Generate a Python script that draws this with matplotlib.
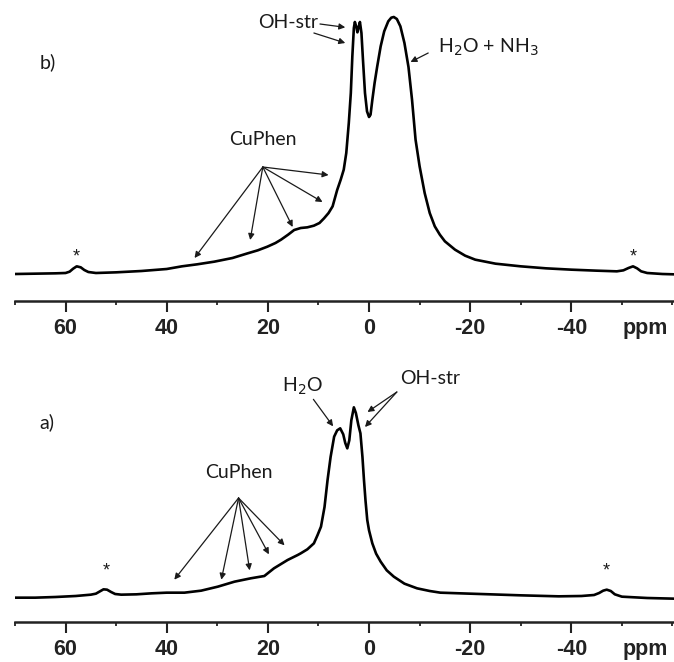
import matplotlib
matplotlib.use("Agg")
import matplotlib.pyplot as plt
from matplotlib.ticker import MultipleLocator

# ---- data (ppm vs intensity) ----
top_ppm = [70, 66, 62, 60, 59.2, 58.5, 57.8, 57, 56.3, 55.5, 54, 50, 45, 40, 37, 34, 30.6, 27, 24,
           22, 20.1, 18.5, 17.4, 16, 14.8, 13.5, 12.2, 10.9, 9.8, 8.9, 8, 7.2, 6.3, 5.6, 5.0,
           4.5, 4.0, 3.6, 3.3, 3.0, 2.8, 2.5, 2.3, 2.05, 1.8, 1.5, 1.2, 0.8, 0.4, 0.0, -0.3,
           -0.65, -1.1, -1.6, -2.3, -3.0, -3.8, -4.4, -4.9, -5.5, -6.2, -7.0, -7.8, -8.5, -9.2,
           -10, -11, -12, -13, -14, -15, -17, -19, -21, -25, -30, -35, -40, -45, -49, -50.3,
           -51.3, -52.2, -53, -53.8, -55, -58, -60.3]
top_int = [-3, -2, -1, 0, 4, 13, 20, 17, 9, 3, 0, 2, 6, 12, 20, 26, 34, 45, 59,
           68, 79, 90, 100, 115, 129, 135, 137, 142, 150, 164, 180, 200, 249, 280, 310,
           360, 450, 540, 650, 735, 753, 738, 722, 738, 753, 720, 640, 540, 485, 468, 475,
           519, 570, 618, 680, 725, 755, 766, 768, 762, 740, 690, 618, 520, 400,
           320, 240, 180, 140, 115, 95, 70, 52, 40, 28, 20, 14, 10, 7, 5, 8,
           15, 20, 14, 5, 0, -3, -4]

bot_ppm = [70, 66, 62, 58, 55, 54, 53.2, 52.5, 51.8, 51, 50.2, 49, 46, 43, 40, 36.5, 33.2, 29.9,
           26.6, 23.4, 20.7, 18.8, 16.1, 14.1, 13.5, 12.2, 10.9, 10.2, 9.5, 8.8, 8.2, 7.6, 6.9,
           6.3, 5.7, 5.1, 4.7, 4.3, 3.9, 3.5, 3.0, 2.6, 2.1, 1.7, 1.3, 1.0, 0.7, 0.35, 0.0,
           -0.65, -1.4, -2.3, -3.5, -4.9, -7, -9.5, -12, -14.1, -18, -22, -30, -37.5, -42,
           -44.5, -45.5, -46.3, -47, -47.8, -48.6, -50, -55, -60.3]
bot_int = [-2, -2, 0, 3, 7, 10, 17, 23, 22, 15, 9, 7, 8, 11, 13, 13, 19, 31,
           46, 56, 63, 86, 111, 126, 131, 143, 161, 185, 211, 270, 351, 420, 481,
           500, 506, 488, 462, 446, 470, 530, 569, 552, 515, 491, 420, 351, 290, 231, 200,
           161, 130, 106, 80, 61, 40, 26, 18, 13, 11, 9, 5, 2, 3,
           6, 12, 19, 22, 18, 8, 1, -3, -5]

tick_vals = [60, 40, 20, 0, -20, -40]
tick_labels = ["60", "40", "20", "0", "-20", "-40"]
axis_label = "ppm"

W, H = 674, 662
fig = plt.figure(figsize=(W / 100, H / 100), dpi=100)

TXT = ["Lato", "DejaVu Sans"]
TICKF = ["Liberation Sans", "DejaVu Sans"]
CLR = "#1a1a1a"
TICK_LEN = 8.0
TICK_PAD = 4.5
TICK_FS = 15.5


def make_axes(top_px, spine_px, ylim):
    ax = fig.add_axes([15 / W, (H - spine_px) / H, 1 - 15 / W, (spine_px - top_px) / H])
    ax.set_facecolor("none")
    ax.set_xlim(70, -60.3)
    ax.set_ylim(*ylim)
    for s in ("top", "left", "right"):
        ax.spines[s].set_visible(False)
    ax.spines["bottom"].set_linewidth(1.8)
    ax.spines["bottom"].set_color("#222222")
    ax.set_yticks([])
    ax.set_xticks(tick_vals)
    ax.set_xticklabels(tick_labels, fontfamily=TICKF, fontweight="bold", fontsize=TICK_FS)
    ax.xaxis.set_minor_locator(MultipleLocator(10))
    ax.tick_params(axis="x", which="major", length=TICK_LEN, width=1.5, direction="out",
                   pad=TICK_PAD, colors="#222222")
    ax.tick_params(axis="x", which="minor", length=3.2, width=1.3, direction="out",
                   colors="#222222")
    ax.annotate(axis_label, xy=(-54.6, 0), xycoords=("data", "axes fraction"),
                xytext=(0, -(TICK_LEN + TICK_PAD)), textcoords="offset points",
                ha="center", va="top", fontfamily=TICKF, fontweight="bold", fontsize=TICK_FS,
                color="#222222", annotation_clip=False)
    return ax


def arrow(ax, xy_from, xy_to):
    ax.annotate("", xy=xy_to, xytext=xy_from,
                arrowprops=dict(arrowstyle="-|>", lw=0.9, color=CLR, mutation_scale=9,
                                shrinkA=0, shrinkB=0))


# ---- top panel b) ----
axb = make_axes(0, 301, (-84, 819))
axb.plot(top_ppm, top_int, color="black", lw=1.9)
axb.text(63.5, 633, "b)", fontfamily=TXT, fontsize=14, color=CLR, ha="center", va="center")
axb.text(21.0, 400, "CuPhen", fontfamily=TXT, fontsize=14, color=CLR, ha="center", va="center")
for tgt in [(34.5, 45), (23.5, 99), (15.1, 138), (9.2, 213), (8.0, 294)]:
    arrow(axb, (21.0, 318), tgt)
axb.text(15.9, 752, "OH-str", fontfamily=TXT, fontsize=14, color=CLR, ha="center", va="center")
arrow(axb, (9.7, 747), (4.7, 737))
arrow(axb, (10.9, 720), (4.7, 690))
axb.text(-23.6, 678, r"H$_2$O + NH$_3$", fontfamily=TXT, fontsize=14, color=CLR,
         ha="center", va="center")
arrow(axb, (-11.7, 660), (-8.2, 633))
axb.text(57.8, 48, "*", fontfamily=TICKF, fontsize=13, color=CLR, ha="center", va="center")
axb.text(-52.2, 48, "*", fontfamily=TICKF, fontsize=13, color=CLR, ha="center", va="center")

# ---- bottom panel a) ----
axa = make_axes(330, 622, (-75, 801))
axa.plot(bot_ppm, bot_int, color="black", lw=1.9)
axa.text(63.7, 525, "a)", fontfamily=TXT, fontsize=14, color=CLR, ha="center", va="center")
axa.text(25.8, 372, "CuPhen", fontfamily=TXT, fontsize=14, color=CLR, ha="center", va="center")
for tgt in [(38.5, 52), (29.2, 52), (23.6, 80), (19.8, 128), (16.7, 155)]:
    arrow(axa, (25.8, 297), tgt)
axa.text(13.1, 632, r"H$_2$O", fontfamily=TXT, fontsize=14, color=CLR, ha="center", va="center")
arrow(axa, (11.0, 593), (7.1, 512))
axa.text(-12.1, 657, "OH-str", fontfamily=TXT, fontsize=14, color=CLR, ha="center", va="center")
arrow(axa, (-5.5, 615), (0.3, 555))
arrow(axa, (-5.5, 615), (0.8, 510))
axa.text(52.0, 79, "*", fontfamily=TICKF, fontsize=13, color=CLR, ha="center", va="center")
axa.text(-47.0, 79, "*", fontfamily=TICKF, fontsize=13, color=CLR, ha="center", va="center")

fig.savefig("out.png", dpi=100)
